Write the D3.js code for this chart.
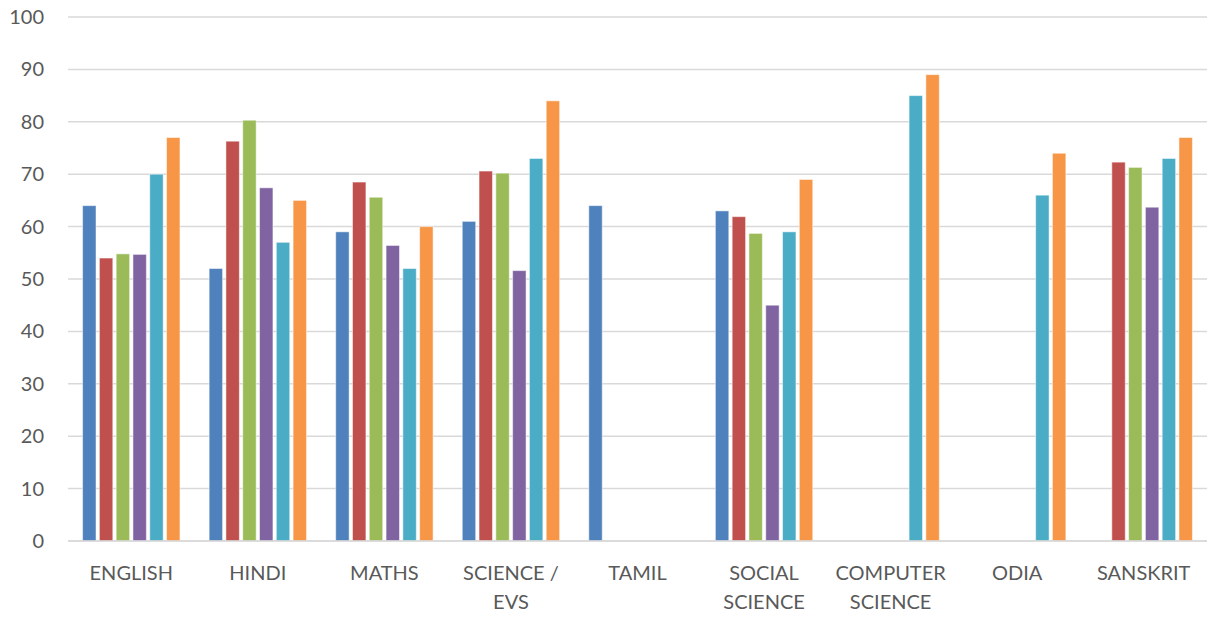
<!DOCTYPE html>
<html>
<head>
<meta charset="utf-8">
<script src="https://cdn.jsdelivr.net/npm/d3@7"></script>
<style>
  body { margin: 0; background: #fff; }
  text { font-family: Lato, "Liberation Sans", sans-serif; fill: #595959; }
</style>
</head>
<body>
<div id="chart"></div>
<script>
var svgWidth = 1211;
var svgHeight = 624;

// subjects on the x axis (line breaks as in the picture)
var subjects = [
  ["ENGLISH"], ["HINDI"], ["MATHS"], ["SCIENCE /", "EVS"], ["TAMIL"],
  ["SOCIAL", "SCIENCE"], ["COMPUTER", "SCIENCE"], ["ODIA"], ["SANSKRIT"]
];

// six series, null = no bar
var series1 = [64, 52, 59, 61, 64, 63, null, null, null];
var series2 = [54, 76.3, 68.5, 70.6, null, 61.9, null, null, 72.3];
var series3 = [54.8, 80.3, 65.6, 70.2, null, 58.7, null, null, 71.3];
var series4 = [54.7, 67.4, 56.4, 51.6, null, 45, null, null, 63.7];
var series5 = [70, 57, 52, 73, null, 59, 85, 66, 73];
var series6 = [77, 65, 60, 84, null, 69, 89, 74, 77];

var yTicks = [0, 10, 20, 30, 40, 50, 60, 70, 80, 90, 100];
var colors = ["#4F81BD", "#C0504D", "#9BBB59", "#8064A2", "#4BACC6", "#F79646"];

var allSeries = [series1, series2, series3, series4, series5, series6];

var margin = { left: 68, right: 4, top: 17, bottom: 83 };

var svg = d3.select("#chart")
  .append("svg")
  .attr("width", svgWidth)
  .attr("height", svgHeight);

var x0 = d3.scaleBand()
  .domain(d3.range(subjects.length))
  .range([margin.left, svgWidth - margin.right])
  .paddingInner(0.204)
  .paddingOuter(0.102);

var x1 = d3.scaleBand()
  .domain(d3.range(allSeries.length))
  .range([0, x0.bandwidth()])
  .paddingInner(0.2)
  .paddingOuter(0.1);

var y = d3.scaleLinear()
  .domain([0, 100])
  .range([svgHeight - margin.bottom, margin.top]);

// gridlines
svg.append("g")
  .selectAll("line")
  .data(yTicks)
  .enter()
  .append("line")
  .attr("x1", margin.left)
  .attr("x2", svgWidth - margin.right)
  .attr("y1", function(d) { return y(d); })
  .attr("y2", function(d) { return y(d); })
  .attr("stroke", "#d9d9d9")
  .attr("stroke-width", 1.5);

// y labels
var yAxis = d3.axisLeft(y)
  .tickValues(yTicks)
  .tickSize(0)
  .tickPadding(24);

svg.append("g")
  .attr("transform", "translate(" + margin.left + ",0)")
  .call(yAxis)
  .call(function(g) { g.select(".domain").remove(); })
  .selectAll("text")
  .style("font-size", "20px")
  .style("font-family", "Lato, sans-serif")
  .attr("fill", "#595959");

// bars
var groups = svg.append("g")
  .selectAll("g")
  .data(subjects)
  .enter()
  .append("g")
  .attr("transform", function(d, i) { return "translate(" + x0(i) + ",0)"; });

groups.selectAll("rect")
  .data(function(d, i) {
    return allSeries.map(function(s, k) { return { k: k, v: s[i] }; })
      .filter(function(e) { return e.v != null; });
  })
  .enter()
  .append("rect")
  .attr("x", function(d) { return x1(d.k); })
  .attr("width", x1.bandwidth())
  .attr("y", function(d) { return y(d.v); })
  .attr("height", function(d) { return y(0) - y(d.v); })
  .attr("fill", function(d) { return colors[d.k]; })
  .attr("stroke", "#ffffff")
  .attr("stroke-opacity", 0.5)
  .attr("stroke-width", 1);

// x axis line
svg.append("line")
  .attr("x1", margin.left)
  .attr("x2", svgWidth - margin.right)
  .attr("y1", y(0))
  .attr("y2", y(0))
  .attr("stroke", "#d9d9d9")
  .attr("stroke-width", 1.5);

// x labels
var labels = svg.append("g")
  .selectAll("text")
  .data(subjects)
  .enter()
  .append("text")
  .attr("text-anchor", "middle")
  .attr("x", function(d, i) { return x0(i) + x0.bandwidth() / 2; })
  .attr("y", y(0) + 39)
  .style("font-size", "20px");

labels.selectAll("tspan")
  .data(function(d) { return d; })
  .enter()
  .append("tspan")
  .attr("x", function() { return d3.select(this.parentNode).attr("x"); })
  .attr("dy", function(d, j) { return j === 0 ? 0 : 29; })
  .text(function(d) { return d; });
</script>
</body>
</html>
